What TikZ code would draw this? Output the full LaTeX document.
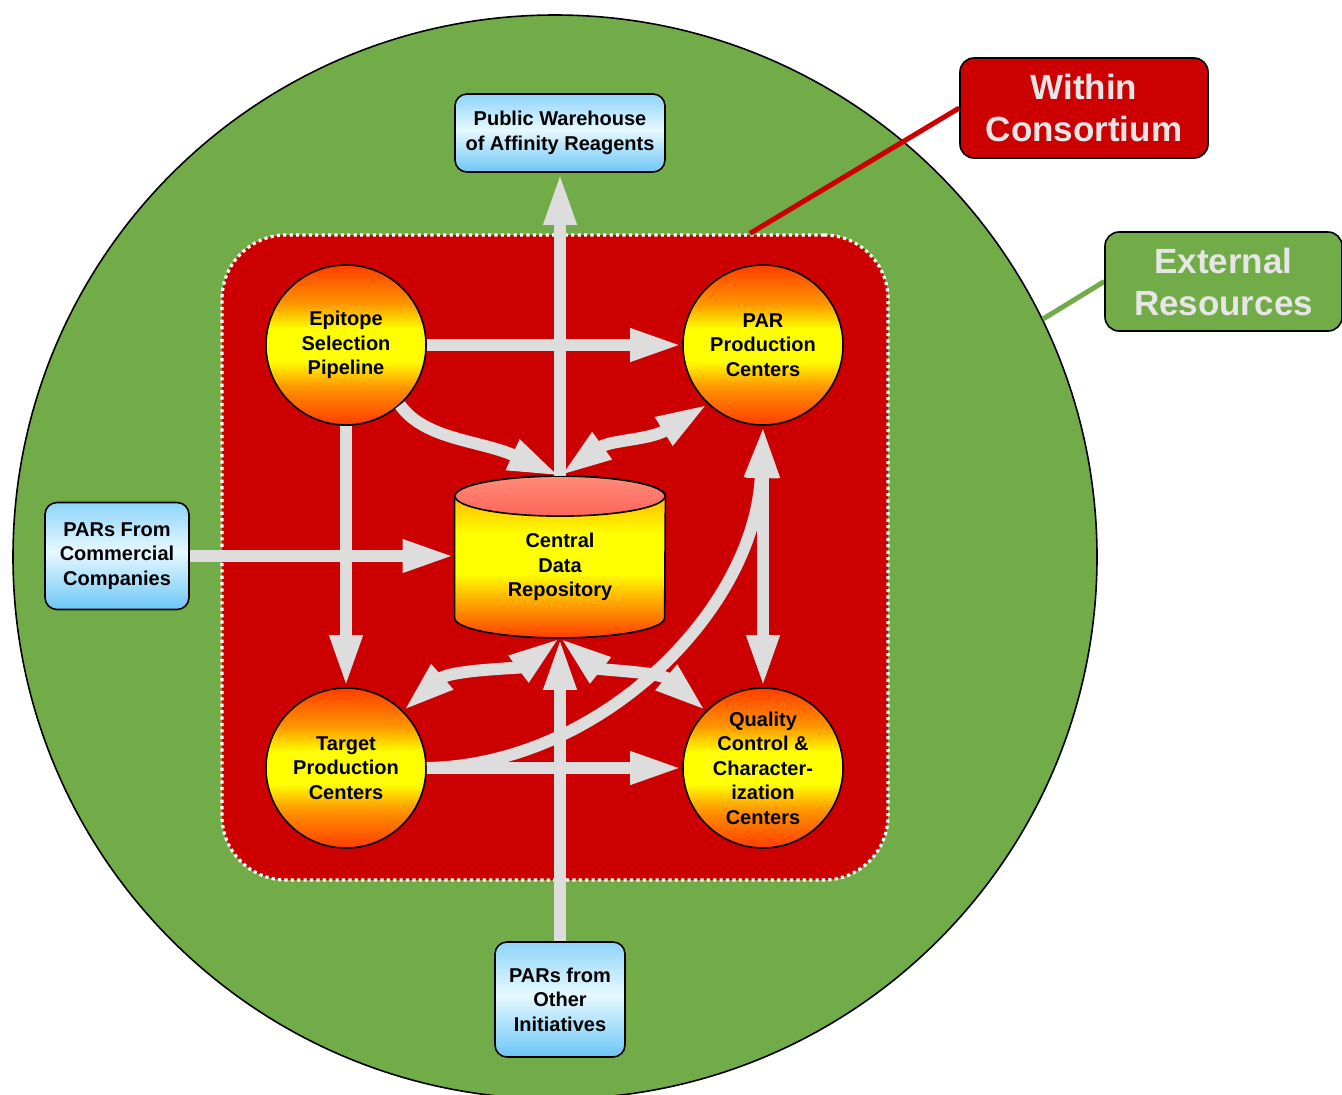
\documentclass[tikz,border=0pt]{standalone}
\usepackage{fontspec}
\setmainfont{Liberation Sans}
\usepackage{tikz}
\usetikzlibrary{arrows.meta}

\definecolor{worldgreen}{RGB}{114,172,72}
\definecolor{consred}{RGB}{204,0,0}
\definecolor{flowgrey}{RGB}{221,221,221}
\definecolor{labelgrey}{RGB}{230,230,230}
\definecolor{ballred}{RGB}{255,60,0}
\definecolor{ballorange}{RGB}{255,150,0}
\definecolor{ballyellow}{RGB}{255,255,0}
\definecolor{lidtop}{RGB}{255,140,120}
\definecolor{lidbottom}{RGB}{255,100,90}
\definecolor{boxblue}{RGB}{108,198,246}
\definecolor{boxtop}{RGB}{142,212,250}
\definecolor{boxpale}{RGB}{230,249,255}

\pgfdeclareverticalshading{ballshade}{100bp}{color(0bp)=(ballred); color(25bp)=(ballred); color(37bp)=(ballorange); color(45bp)=(ballyellow); color(55bp)=(ballyellow); color(63bp)=(ballorange); color(75bp)=(ballred); color(100bp)=(ballred)}
\pgfdeclareverticalshading{drumshade}{100bp}{color(0bp)=(ballred); color(25bp)=(ballred); color(45bp)=(ballyellow); color(57bp)=(ballyellow); color(75bp)=(ballorange); color(100bp)=(ballorange)}
\pgfdeclareverticalshading{boxshade}{100bp}{color(0bp)=(boxblue); color(25bp)=(boxblue); color(52bp)=(boxpale); color(75bp)=(boxtop); color(100bp)=(boxtop)}

\pgfdeclarelayer{back}
\pgfdeclarelayer{drum}
\pgfsetlayers{back,drum,main}

\begin{document}
\begin{tikzpicture}[x=0.5pt,y=-0.5pt,
  ball/.style={circle, draw=black, line width=0.8pt, shade, shading=ballshade, minimum size=80pt, inner sep=0pt, align=center, font=\fontsize{10}{12.25}\selectfont\bfseries},
  source/.style={rectangle, rounded corners=6pt, draw=black, line width=0.8pt, shade, shading=boxshade, inner sep=0pt, align=center, font=\fontsize{10}{12.25}\selectfont\bfseries},
  tag/.style={rectangle, rounded corners=7pt, draw=black, line width=0.8pt, inner sep=0pt, align=center, text=labelgrey, font=\fontsize{17.5}{21}\selectfont\bfseries},
  flow/.style={draw=flowgrey, line width=6pt, -{Triangle[length=26pt,width=15pt]}},
  flowboth/.style={flow, {Triangle[length=26pt,width=15pt]}-{Triangle[length=26pt,width=15pt]}},
  leader/.style={line width=2.5pt}]
  \useasboundingbox (0,0) rectangle (1342,1094);

  % outer and inner regions
  \begin{pgfonlayer}{back}
    \node (world) [circle, draw=black, line width=0.8pt, fill=worldgreen, minimum size=542pt, inner sep=0pt] at (555,557) {};
    \node (cons) [rectangle, rounded corners=32pt, fill=consred, draw=white, line width=1.6pt, dash pattern=on 1.6pt off 1.6pt, minimum width=333pt, minimum height=322.5pt] at (555,557.5) {};
  \end{pgfonlayer}

  % centres
  \node (epi) [ball] at (346,345) {Epitope\\Selection\\Pipeline};
  \node (par) [ball] at (763,345) {PAR\\Production\\Centers};
  \node (tgt) [ball] at (346,768) {Target\\Production\\Centers};
  \node (qc) [ball] at (763,768) {Quality\\Control \&\\Character-\\ization\\Centers};

  % repository drum
  \node (repo) [minimum width=105pt, minimum height=70.5pt, inner sep=0pt, align=center, font=\fontsize{10}{12.25}\selectfont\bfseries] at (560,567) {Central\\Data\\Repository};
  \begin{pgfonlayer}{drum}
    \path[draw=black, line width=0.8pt, shade, shading=drumshade] (repo.north west) -- ([yshift=10pt]repo.south west) arc[start angle=180, end angle=360, x radius=52.5pt, y radius=10pt] -- (repo.north east) arc[start angle=0, end angle=180, x radius=52.5pt, y radius=10pt] -- cycle;
    \path[draw=black, line width=0.8pt, top color=lidtop, bottom color=lidbottom] (repo.north) ellipse [x radius=52.5pt, y radius=10pt];
  \end{pgfonlayer}

  % outside sources
  \node (ware) [source, minimum width=105pt, minimum height=39pt] at (560,133) {Public Warehouse\\of Affinity Reagents};
  \node (comm) [source, minimum width=72pt, minimum height=53.5pt] at (117,556) {PARs From\\Commercial\\Companies};
  \node (other) [source, minimum width=65pt, minimum height=57.5pt] at (560,999.5) {PARs from\\Other\\Initiatives};

  % legend tags
  \node (within) [tag, fill=consred, minimum width=124pt, minimum height=50pt] at (1084,108) {Within\\Consortium};
  \node (ext) [tag, fill=worldgreen, minimum width=118.5pt, minimum height=49.5pt] at (1223.5,281.5) {External\\Resources};
  \begin{pgfonlayer}{back}
    \draw[leader, consred] (within.west) -- ([xshift=97.5pt]cons.north);
    \draw[leader, worldgreen] (ext.west) -- (world.26);
  \end{pgfonlayer}

  % flows
  \draw[flow] ([yshift=10pt]repo.north) -- (ware.south);
  \draw[flow] (epi.east) -- (par.west);
  \draw[flow] (epi.south) -- (tgt.north);
  \draw[flowboth] (par.south) -- (qc.north);
  \draw[flow] (tgt.east) -- (qc.west);
  \draw[flow] (comm.east) -- (comm.east -| repo.west);
  \draw[flow] (other.north) -- (repo.south);
  \draw[flow] (epi.-48) .. controls (425,440) and (480,440) .. ([yshift=10pt]repo.north);
  \draw[flowboth] ([yshift=10pt]repo.north) .. controls (610,440) and (650,440) .. (par.-133);
  \draw[flowboth] (repo.south) .. controls (520,668) and (450,670) .. (tgt.45);
  \draw[flowboth] (repo.south) .. controls (600,670) and (660,672) .. (qc.135);
  \draw[flow] (tgt.east) .. controls (600,765) and (755,610) .. (par.south);
\end{tikzpicture}
\end{document}
